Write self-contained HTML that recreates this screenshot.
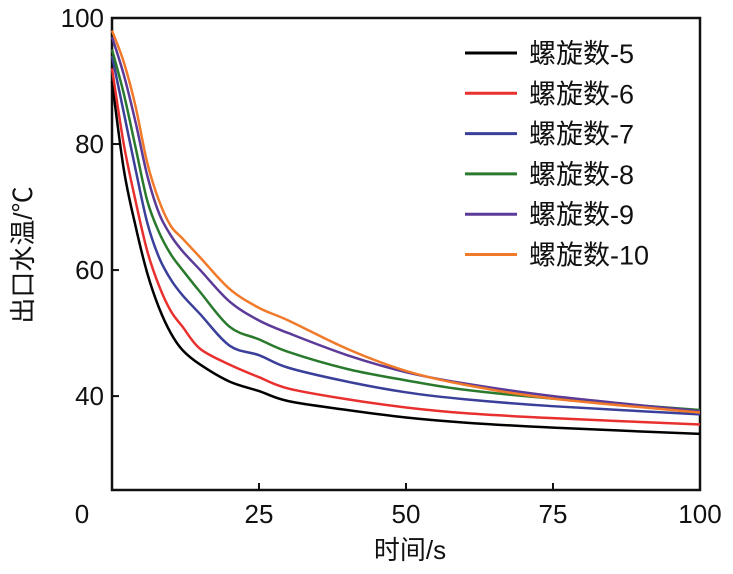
<!DOCTYPE html>
<html><head><meta charset="utf-8"><style>
body{margin:0;background:#fff;}
svg text{font-family:"Liberation Sans","Noto Sans CJK SC",sans-serif;fill:#111;}
</style></head><body>
<svg id="chart" width="733" height="569">
<g id="axes"></g><g id="series"></g><g id="legend"></g>
</svg>
<script>
const times=[0,2,4,6,8,10,12,15,20,25,30,40,50,60,75,100];
const seriesNames=["螺旋数-5","螺旋数-6","螺旋数-7","螺旋数-8","螺旋数-9","螺旋数-10"];
const colors=["#000000","#e8312f","#3a3f9a","#2a7a2e","#5b3a98","#f07a2a"];
const s5=[90,76,67,59.5,54,50,47.3,45,42.3,40.8,39.2,37.8,36.6,35.8,35,34];
const s6=[92,80,71,63,57.5,53.5,51,47.5,45,43,41.2,39.5,38.2,37.3,36.5,35.5];
const s7=[94,85,76,67.5,62,58.5,56,53,48,46.5,44.5,42.3,40.6,39.5,38.4,37.1];
const s8=[95,88,79.5,71,66,62.5,60,56.5,51,49,47,44.3,42.5,41,39.6,37.8];
const s9=[97,91,83.5,75,69,65.5,63,60,55,52,50,46.5,43.8,42,40,37.6];
const s10=[98,93,86,77,71,67,65,62,57,54,52,47.5,44,41.8,39.6,37.4];
const allSeries=[s5,s6,s7,s8,s9,s10];
const xTicks=[0,25,50,75,100];
const yTicks=[40,60,80,100];
const X0=112,X1=700,Y0=490,Y1=18,XMIN=0,XMAX=100,YMIN=25.1,YMAX=100;
const sx=v=>X0+(v-XMIN)/(XMAX-XMIN)*(X1-X0);
const sy=v=>Y0-(v-YMIN)/(YMAX-YMIN)*(Y0-Y1);
const NS="http://www.w3.org/2000/svg";
function mk(tag,attrs,parent,txt){const e=document.createElementNS(NS,tag);for(const k in attrs)e.setAttribute(k,attrs[k]);if(txt!==undefined)e.textContent=txt;parent.appendChild(e);return e;}
const axes=document.getElementById('axes');
let f=mk('rect',{x:X0,y:Y1,width:X1-X0,height:Y0-Y1,fill:'none',stroke:'#111','stroke-width':2.5},axes);


xTicks.forEach(t=>{
  let tk=mk('line',{x1:sx(t),x2:sx(t),y1:Y0,y2:Y0-7,stroke:'#111','stroke-width':2},axes);
  
  
  let lx=t===0?82:sx(t);
  let lb=mk('text',{x:lx,y:523,'text-anchor':'middle','font-size':26},axes,String(t));
  
  
});
yTicks.forEach(t=>{
  let tk=mk('line',{x1:X0,x2:X0+7,y1:sy(t),y2:sy(t),stroke:'#111','stroke-width':2},axes);
  
  
  let lb=mk('text',{x:104,y:sy(t)+9,'text-anchor':'end','font-size':26},axes,String(t));
  
  
});
let xt=mk('text',{x:410,y:559,'text-anchor':'middle','font-size':26},axes,'时间/s');


let yt=mk('text',{x:0,y:0,'text-anchor':'middle','font-size':26,transform:'translate(32,255) rotate(-90)'},axes,'出口水温/℃');


function pathFor(vals){
  const p=times.map((t,i)=>[sx(t),sy(vals[i])]);
  let d='M'+p[0][0]+','+p[0][1];
  for(let i=0;i<p.length-1;i++){
    const a=p[Math.max(0,i-1)],b=p[i],c=p[i+1],e=p[Math.min(p.length-1,i+2)];
    const c1=[b[0]+(c[0]-a[0])/6,b[1]+(c[1]-a[1])/6],c2=[c[0]-(e[0]-b[0])/6,c[1]-(e[1]-b[1])/6];
    d+=` C${c1[0]},${c1[1]} ${c2[0]},${c2[1]} ${c[0]},${c[1]}`;
  }
  return d;
}
const sg=document.getElementById('series'),lg=document.getElementById('legend');
allSeries.forEach((vals,i)=>{
  let pth=mk('path',{d:pathFor(vals),fill:'none',stroke:colors[i],'stroke-width':2.5,'stroke-linejoin':'round'},sg);
  
  
  const ly=53+i*40.3;
  let ll=mk('line',{x1:465,x2:517,y1:ly,y2:ly,stroke:colors[i],'stroke-width':3},lg);
  
  
  let lt=mk('text',{x:529,y:ly+10,'font-size':27},lg,seriesNames[i]);
  
  
});
</script>
</body></html>
